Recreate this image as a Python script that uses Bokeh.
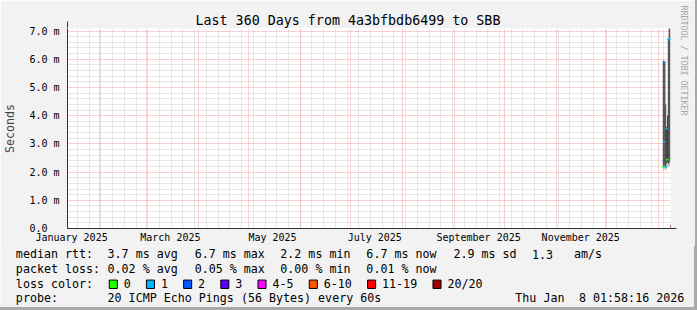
import pandas as pd
from bokeh.plotting import figure
from bokeh.layouts import column
from bokeh.models import (Range1d, FixedTicker, Arrow, NormalHead, Title)
from bokeh.core.properties import value
from bokeh.embed import file_html
from bokeh.resources import INLINE

# ---------------- data ----------------
t_start = "2025-01-13 01:58:16"
t_end = "2026-01-08 01:58:16"

x_label_dates = ["2025-01-15 12:00", "2025-03-15 12:00", "2025-05-15 12:00",
                 "2025-07-15 12:00", "2025-09-15 12:00", "2025-11-15 12:00"]
x_label_texts = ["January 2025", "March 2025", "May 2025", "July 2025", "September 2025", "November 2025"]

y_ticks = [0, 1, 2, 3, 4, 5, 6, 7]
y_labels = ["0.0\u00a0\u00a0", "1.0 m", "2.0 m", "3.0 m", "4.0 m", "5.0 m", "6.0 m", "7.0 m"]

# 12-hour consolidated steps (values in ms)
step_start = ["2026-01-03 12:00", "2026-01-04 00:00", "2026-01-04 12:00", "2026-01-05 00:00",
              "2026-01-05 12:00", "2026-01-06 00:00", "2026-01-06 12:00", "2026-01-07 00:00",
              "2026-01-07 12:00"]
ping_min = [2.05, 2.10, 2.10, 2.05, 2.10, 2.15, 2.20, 2.20, 2.20]
smoke_lo = [2.20, 2.25, 2.20, 2.20, 2.30, 2.35, 2.30, 2.30, 2.40]
smoke_hi = [5.95, 5.95, 5.90, 4.40, 3.60, 4.00, 6.70, 7.10, 7.10]
median_rtt = [2.18, 3.07, 5.90, 2.18, 3.54, 2.44, 6.70, 6.70, 6.70]
lost_pings = [0, 1, 1, 1, 1, 0, 1, 1, 1]

loss_labels = ["0", "1", "2", "3", "4-5", "6-10", "11-19", "20/20"]
loss_upper = [0, 1, 2, 3, 5, 10, 19, 20]
loss_colors = ["#26ff00", "#00b8ff", "#0059ff", "#5e00ff", "#ff00ff", "#ff5500", "#ff0000", "#a10000"]

rtt_stats = ["median rtt:", "3.7 ms avg", "6.7 ms max", "2.2 ms min", "6.7 ms now", "2.9 ms sd", "1.3", "am/s"]
loss_stats = ["packet loss:", "0.02 % avg", "0.05 % max", "0.00 % min", "0.01 % now"]
loss_title = "loss color:"
probe_text = ["probe:", "20 ICMP Echo Pings (56 Bytes) every 60s", "Thu Jan", "8 01:58:16 2026"]
title_text = "Last 360 Days from 4a3bfbdb6499 to SBB"
watermark = "RRDTOOL / TOBI OETIKER"

# ---------------- helpers ----------------
def ms(s):
    return pd.Timestamp(s).value / 1e6

MONO = "DejaVu Sans Mono"
BG = "#f2f2f2"
SHADE = "3px solid #a9a9a9"
AXC = "#333333"
ARC = "#841818"
FL, FT = 67, 28
W = 694

x0, x1 = ms(t_start), ms(t_end)
day = 86400000.0
px_per_day = 600 / 360.0

# ---------------- main plot ----------------
p = figure(frame_width=600, frame_height=200, x_axis_type="datetime",
           x_range=Range1d(x0, x1), y_range=Range1d(0, 7.09),
           output_backend="svg", toolbar_location=None,
           min_border_left=FL, min_border_right=W - FL - 600, min_border_top=FT, min_border_bottom=18)
p.frame_align = False
p.styles = {"border-right": SHADE}
p.border_fill_color = BG
p.background_fill_color = "#ffffff"
p.outline_line_color = None

p.title.text = title_text
p.title.text_font = MONO
p.title.text_font_size = "13.33px"
p.title.text_font_style = "normal"
p.title.text_color = "#000000"
p.title.align = "left"
p.title.offset = 128
p.title.standoff = 2

p.add_layout(Title(text=watermark, align="left", offset=-23, standoff=16,
                   text_font=MONO, text_font_size="8.3px", text_font_style="normal",
                   text_color="#a6a6a6"), "right")

# grids
month_ms = [ms(d) for d in pd.date_range("2025-02-01", "2026-01-01", freq="MS")]
week_ms = [ms(d) for d in pd.date_range("2025-01-19", "2026-01-04", freq="7D")]
p.xgrid.ticker = FixedTicker(ticks=month_ms, minor_ticks=week_ms)
p.ygrid.ticker = FixedTicker(ticks=y_ticks[1:], minor_ticks=[i / 5 for i in range(1, 36) if i % 5])
for g in (p.xgrid, p.ygrid):
    g.grid_line_color = "#eea3a3"
    g.grid_line_dash = "1 1"
    g.grid_line_width = 1
    g.minor_grid_line_color = "#cfcfcf"
    g.minor_grid_line_dash = "1 1"
    g.minor_grid_line_width = 1

# axes
xl_ms = [ms(d) for d in x_label_dates]
p.xaxis.ticker = FixedTicker(ticks=xl_ms)
p.xaxis.major_label_overrides = dict(zip(xl_ms, x_label_texts))
p.yaxis.ticker = FixedTicker(ticks=y_ticks)
p.yaxis.major_label_overrides = dict(zip(y_ticks, y_labels))
p.yaxis.axis_label = "Seconds"
p.yaxis.axis_label_text_font = MONO
p.yaxis.axis_label_text_font_size = "11.67px"
p.yaxis.axis_label_text_font_style = "normal"
p.yaxis.axis_label_standoff = 9
for ax in (p.xaxis, p.yaxis):
    ax.axis_line_color = AXC
    ax.major_tick_line_color = None
    ax.minor_tick_line_color = None
    ax.major_tick_out = 0
    ax.major_tick_in = 0
    ax.minor_tick_out = 0
    ax.minor_tick_in = 0
    ax.major_label_text_font = MONO
    ax.major_label_text_font_size = "10px"
    ax.major_label_text_color = "#000000"
p.yaxis.major_label_standoff = 8
p.xaxis.major_label_standoff = 3

# smoke
lefts = [ms(s) for s in step_start]
rights = [l + day / 2 for l in lefts]
p.quad(left=lefts, right=rights, bottom=ping_min, top=smoke_lo, fill_color="#bdbdbd", line_color=None)
p.quad(left=lefts, right=rights, bottom=smoke_lo, top=smoke_hi, fill_color="#262626", line_color=None)

# median per loss category
def cat(n):
    for i, u in enumerate(loss_upper):
        if n <= u:
            return i
    return len(loss_upper) - 1

for ci, col in enumerate(loss_colors):
    idx = [i for i, n in enumerate(lost_pings) if cat(n) == ci]
    if idx:
        p.segment(x0=[lefts[i] for i in idx], x1=[rights[i] for i in idx],
                  y0=[median_rtt[i] for i in idx], y1=[median_rtt[i] for i in idx],
                  line_color=col, line_width=1.6, line_cap="square")

# axis arrows
p.add_layout(Arrow(end=NormalHead(size=6, fill_color=ARC, line_color=ARC),
                   x_start=x0, y_start=0, x_end=x0, y_end=7.09 + 7 / 28.2,
                   line_color=AXC, line_width=1))
p.add_layout(Arrow(end=NormalHead(size=6, fill_color=ARC, line_color=ARC),
                   x_start=x0, y_start=0, x_end=x1 + 6 / px_per_day * day, y_end=0,
                   line_color=AXC, line_width=1))

# ---------------- legend / statistics strip (page-pixel coordinates) ----------------
TOP = FT + 200 + 18          # page y where the strip starts
H = 310 - 3 - TOP
q = figure(frame_width=W, frame_height=H, x_range=Range1d(0, W), y_range=Range1d(TOP + H, TOP),
           output_backend="svg", toolbar_location=None, x_axis_location=None, y_axis_location=None,
           min_border=0)
q.frame_align = False
q.styles = {"border-right": SHADE, "border-bottom": SHADE}
q.grid.visible = False
q.outline_line_color = None
q.background_fill_color = BG
q.border_fill_color = BG

cols = [15.3, 106.6, 193.3, 278.6, 364.3, 451.0, 529.3, 571.0]
rows = [253.5, 267.5, 281.5, 295.5]
tx, ty, tt = [], [], []
for t, xp in zip(rtt_stats, cols):
    tx.append(xp); ty.append(rows[0]); tt.append(t)
for t, xp in zip(loss_stats, cols):
    tx.append(xp); ty.append(rows[1]); tt.append(t)
tx.append(cols[0]); ty.append(rows[2]); tt.append(loss_title)
for t, xp in zip(probe_text, [15.3, 106.6, 512.6, 576.0]):
    tx.append(xp); ty.append(rows[3]); tt.append(t)

# loss colour swatches laid out after their labels (monospace char width 7.02 px)
CW = 7.02
sx, lx = [], []
cur = 108.3
for lab in loss_labels:
    sx.append(cur)
    lx.append(cur + 8 + 6.4)
    cur += 8 + 7 + CW * len(lab) + 15
for lab, xp in zip(loss_labels, lx):
    tx.append(xp); ty.append(rows[2]); tt.append(lab)

q.text(x=tx, y=ty, text=tt, text_font=value(MONO), text_font_size=value("11.67px"),
       text_color="#000000", text_align="left", text_baseline="middle")
q.quad(left=sx, right=[s + 8 for s in sx], top=[278.0] * len(sx), bottom=[286.0] * len(sx),
       fill_color=loss_colors, line_color="#000000", line_width=1)

layout = column(p, q, spacing=0)
open("out.html", "w").write(file_html(layout, INLINE))
